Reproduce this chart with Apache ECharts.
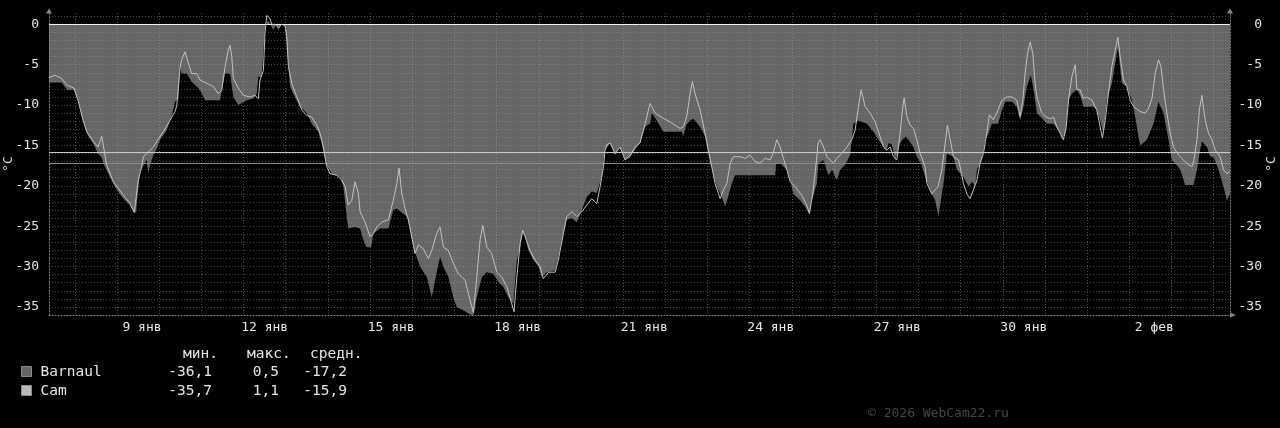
<!DOCTYPE html>
<html><head><meta charset="utf-8">
<script src="https://cdn.jsdelivr.net/npm/echarts@6/dist/echarts.min.js"></script>
<style>html,body{margin:0;background:#000}#c{width:1280px;height:428px}</style>
</head><body><div id="c"></div>
<script>
// time = hours since 7 Jan 00:00
const barnaulT = [9.3,12.7,16.5,19.4,23.5,25.8,28.7,30.8,34.5,37.2,39.3,40.2,44.0,47.8,51.6,55.4,57.3,58.8,61.1,64.9,65.8,66.8,68.7,70.6,72.5,76.3,79.1,81.0,82.9,83.9,84.8,87.7,90.5,95.2,98.1,102.8,106.6,107.6,109.5,112.3,114.2,117.0,121.8,125.6,127.5,128.4,130.3,132.2,133.2,133.9,137.0,138.5,139.8,141.7,143.6,144.6,146.5,148.3,152.1,156.0,158.8,162.6,164.5,166.4,167.3,170.2,174.9,176.8,178.7,179.6,183.4,186.3,188.2,190.1,192.6,193.9,197.7,202.4,205.2,207.2,210.0,212.9,214.8,216.6,220.4,224.3,227.1,229.0,231.8,233.7,236.5,239.4,241.3,245.1,247.9,250.8,252.7,255.6,258.4,262.2,265.0,267.8,270.7,273.5,275.5,277.4,279.2,282.1,284.9,287.8,289.7,292.5,297.3,299.1,301.1,303.9,306.8,309.6,312.5,315.3,318.1,321.0,323.8,324.8,325.7,328.6,331.4,334.3,337.1,340.0,342.8,345.6,348.5,351.3,352.3,355.1,358.9,369.4,370.1,371.8,374.1,376.0,379.8,382.6,384.5,385.5,389.3,392.1,394.0,395.7,397.8,399.7,422.5,423.0,425.3,429.1,431.0,432.9,436.7,439.5,442.0,443.4,446.2,447.1,450.0,452.8,454.9,457.6,459.5,462.3,465.2,467.0,469.9,474.7,478.4,481.3,484.1,486.0,487.0,488.9,490.8,493.6,496.5,498.3,501.2,503.1,505.6,507.8,511.6,513.5,515.4,517.3,518.3,520.2,523.9,525.9,529.6,532.5,534.6,536.3,537.3,540.1,542.0,543.9,545.8,549.4,551.5,553.4,557.3,560.0,561.9,563.8,565.7,568.0,569.9,571.4,573.3,577.1,580.7,583.7,585.6,587.5,589.4,591.3,594.2,596.0,597.9,603.6,605.5,607.4,609.3,611.2,614.1,616.0,617.5,619.8,622.6,625.5,627.3,629.2,630.2,634.0,637.8,640.6,643.5,646.3,648.2,650.1,653.0,655.8,660.5,662.5,664.3,665.3,668.2,670.0,671.9,674.8,677.6,679.5,681.3];
const barnaulV = [-7.2,-7.2,-7.2,-8.1,-8.1,-9.4,-11.9,-13.5,-14.8,-16,-16.5,-17.2,-18.9,-20.5,-21.6,-22.4,-23.2,-23.3,-18.1,-16.8,-18.5,-17.4,-16.2,-15.4,-14.3,-13.1,-11.4,-9.6,-9.2,-5.3,-6.1,-6.1,-7.1,-8.1,-9.4,-9.4,-9.4,-8.1,-6.1,-6.1,-9,-10,-9.4,-9.2,-8.6,-6.5,-6.5,-0.3,0,0.5,-0.7,0,-0.7,0,0,-2.8,-7.7,-8.6,-10.2,-11,-12.3,-13.3,-14.7,-16.8,-17.5,-18.5,-18.9,-20.1,-23.8,-25.3,-25.1,-25.3,-26.7,-27.6,-27.6,-25.9,-25.3,-25.3,-23,-22.8,-23.3,-23.8,-25.5,-27.6,-30,-31.3,-33.8,-31.7,-28.8,-30,-31.3,-33.8,-35,-35.4,-35.8,-36.1,-33.8,-31.3,-30.7,-30.9,-31.9,-32.5,-33.8,-34.6,-29.2,-27.6,-25.5,-28,-29.2,-30,-31.3,-30.7,-30.5,-28.8,-26.7,-24.2,-24,-24.5,-23,-21.4,-20.7,-20.9,-18.9,-16.8,-15.6,-14.7,-16.2,-15.2,-16.8,-16.5,-15.5,-14.7,-12.7,-12.3,-11,-11.9,-13.3,-13.3,-13.9,-12.5,-11.9,-11.7,-12.7,-13.9,-16,-17.2,-20.1,-21.4,-22.6,-21.4,-19.7,-18.7,-18.7,-17.3,-17.2,-18,-19.3,-21,-21.8,-22.6,-23.6,-21.8,-19.7,-17.2,-16.8,-18.7,-18,-19.3,-18,-17.4,-16.2,-12.3,-11.9,-12.3,-13.3,-14.3,-15.2,-15.6,-14.7,-14.9,-16.8,-14.7,-13.9,-14.3,-15.2,-16.4,-17.2,-18.9,-21,-21.8,-23.8,-21,-19.7,-16,-16.4,-18,-18.9,-20.1,-19.5,-20.1,-18,-16.8,-14.3,-13.5,-12.3,-12.3,-10.6,-9.6,-9.6,-10.2,-11.9,-10.2,-7.7,-6.3,-8.6,-11,-11.4,-12.3,-12.3,-13.1,-14.1,-13.6,-9.4,-8.6,-8.1,-8.8,-10.2,-10.2,-10.6,-11.9,-13.5,-9.4,-7.3,-4.8,-2.8,-7.3,-7.7,-9.4,-11.4,-13.9,-15,-14.3,-12.3,-9.6,-11,-14.3,-16.8,-17.2,-18,-19.9,-19.9,-18,-15.6,-14.5,-15.2,-16.4,-16.4,-18,-20.1,-21.8,-21];
const camT = [9.3,12.7,16.5,19.4,23.5,25.8,28.7,30.8,34.5,37.2,38.3,39.3,40.6,42.1,45.9,48.7,52.6,55.4,57.8,59.2,60.1,62.1,63.0,64.9,65.8,68.7,70.6,74.3,78.2,81.0,82.0,83.9,84.8,86.7,88.6,90.5,93.4,95.2,99.0,102.8,105.6,107.6,109.5,111.3,112.3,113.3,114.2,117.0,119.9,123.7,126.5,128.4,129.4,131.3,132.2,133.2,135.1,136.0,137.9,139.8,141.7,143.6,144.6,145.5,147.4,150.3,153.1,156.0,158.8,161.7,163.5,165.4,167.3,169.2,173.0,175.9,177.8,179.6,181.6,183.4,184.4,185.3,186.3,189.1,192.0,193.9,195.8,198.6,202.4,205.2,207.2,208.5,210.0,211.9,213.8,215.7,217.6,219.5,222.3,225.2,227.1,229.9,231.8,233.7,236.5,239.4,242.2,246.1,247.9,249.9,250.8,252.7,254.6,256.1,258.4,261.2,264.1,266.9,269.8,272.6,273.9,275.5,277.4,278.9,281.2,283.0,285.9,288.7,290.6,293.5,297.3,299.1,302.0,303.9,306.8,309.6,312.5,315.3,318.1,321.0,322.9,324.8,325.7,326.7,328.6,331.4,334.3,337.1,340.0,342.8,345.6,348.5,351.3,352.3,354.2,357.0,362.7,365.6,368.4,370.3,372.2,374.1,375.4,376.9,379.8,382.6,384.5,386.4,388.3,391.2,393.1,395.0,396.9,398.7,402.6,405.4,408.2,411.1,413.9,416.8,419.6,421.3,423.4,425.3,427.2,429.1,431.0,433.9,437.7,440.5,442.0,443.9,445.2,446.2,446.9,448.1,450.0,451.9,453.8,455.7,457.6,460.4,463.3,466.1,468.0,469.9,471.4,473.7,476.5,479.4,482.2,484.1,486.0,487.9,489.8,491.7,493.6,494.9,495.9,497.4,499.3,501.2,503.1,505.0,507.8,508.8,511.6,513.5,515.2,517.3,519.2,520.5,522.1,523.9,526.8,527.7,529.6,531.6,533.4,535.3,537.3,539.1,541.0,542.9,544.4,546.5,548.6,551.5,554.3,557.2,560.0,561.9,563.4,564.7,566.1,567.6,569.1,570.4,571.4,574.2,576.1,579.0,580.9,582.8,584.7,586.5,588.1,589.4,591.3,593.2,594.2,596.0,597.9,599.9,602.7,605.5,607.4,608.7,610.3,612.1,614.1,616.0,617.5,618.8,620.7,622.6,624.5,626.4,630.2,633.0,634.9,636.9,638.7,640.6,642.0,643.5,645.4,647.3,649.1,652.0,654.8,657.7,659.6,660.5,662.5,663.9,665.3,667.2,669.1,671.0,672.9,675.7,677.6,679.5,681.3];
const camV = [-6.6,-6.3,-6.7,-7.5,-7.9,-9.4,-11.9,-13.3,-14.5,-15.2,-15.2,-13.9,-15.5,-17.4,-19.5,-20.3,-21.4,-22.2,-23.3,-20.9,-19.3,-17.6,-16.4,-16,-15.8,-15.2,-14.5,-13.3,-11.9,-10.8,-10.1,-5.3,-4.4,-3.4,-4.8,-6.1,-6.1,-6.9,-7.3,-7.7,-8.6,-8.2,-5.2,-3.2,-2.6,-4,-6.7,-7.9,-8.8,-9,-8.8,-9.2,-6.9,-5.7,-1.1,1.1,0.7,0,0,-0.4,0,-0.2,-1.5,-5.2,-7.3,-9,-10.6,-11.3,-11.5,-12.5,-13.5,-15.2,-17.6,-18.5,-18.7,-19.3,-20.1,-22.4,-21.8,-19.5,-19.3,-20.9,-23.2,-24.5,-26.3,-25.9,-25.1,-24.5,-24.2,-21.8,-19.7,-17.8,-20.9,-22.8,-24.2,-26.3,-28.4,-27.3,-27.8,-29,-28,-25.9,-25.1,-27.6,-28,-29.6,-30.9,-31.7,-33.3,-35,-35.7,-31.3,-26.7,-24.9,-27.6,-28.4,-30.7,-31.3,-32.5,-34.6,-35.6,-31.3,-27.1,-25.5,-26.9,-28,-29.2,-30,-31.5,-30.7,-30.7,-29.2,-25.9,-23.8,-23.2,-23.8,-23.2,-22.4,-21.6,-22.2,-20.1,-17.6,-15.6,-14.9,-14.7,-16,-15.2,-16.8,-16.2,-15.2,-14.7,-12.3,-9.8,-9.6,-11,-11.4,-12.1,-12.5,-12.9,-12.7,-11.4,-8.6,-7.1,-8.6,-10.6,-13.5,-15.6,-17.6,-19.7,-21.6,-20.5,-19.7,-17.2,-16.4,-16.4,-16.6,-16.2,-17,-17.2,-16.6,-16.8,-16,-14.3,-15.2,-16.6,-18,-19.5,-20.1,-21.2,-22.4,-23.4,-21,-18.5,-16.4,-14.7,-14.3,-15.2,-16.4,-16.8,-17.2,-16.6,-16,-15.2,-14.3,-13.1,-10.2,-8.1,-10.2,-11,-12.1,-13.9,-15.2,-15.6,-15.2,-16.4,-16.8,-13.5,-10.6,-9.1,-11.4,-12.5,-12.9,-14.3,-16,-17.6,-19.7,-21,-20.5,-20.1,-18,-14.8,-12.5,-14.3,-16.4,-16.8,-17.6,-19.7,-21,-21.6,-20.5,-19.3,-17.2,-16,-13.5,-11.2,-11.8,-11,-9.4,-9,-9,-9.4,-11.4,-9.4,-6.1,-3.6,-2.2,-3.6,-7.3,-9,-11,-11.4,-11.7,-11.5,-12.7,-13.5,-14.3,-12.7,-9.4,-6.5,-5,-8.1,-8.1,-9.2,-9,-9.4,-10.6,-12.7,-14.1,-11.9,-8.6,-5.2,-3.2,-1.6,-4,-6.9,-7.7,-9.4,-10.2,-10.8,-11,-10.4,-9.2,-6.1,-4.4,-5.2,-8.1,-11,-13.5,-15.2,-16.2,-16.8,-17.4,-17.6,-17.2,-14.3,-10.6,-8.8,-11.9,-13.5,-14.3,-15.6,-16.4,-18,-18.5,-18.2];

const dayLines = [24,48,72,96,120,144,168,192,216,240,264,288,312,336,360,384,408,432,456,480,504,528,552,576,600,624,648,672];
const labelHours = [60,132,204,276,348,420,492,564,636];
const labelTexts = [' 9 янв','12 янв','15 янв','18 янв','21 янв','24 янв','27 янв','30 янв',' 2 фев'];
const yTicks = [0,-5,-10,-15,-20,-25,-30,-35];
const statHeaders = ['мин.','макс.','средн.'];
const seriesNames = ['Barnaul','Cam'];
const barnaulStats = [-36.1, 0.5, -17.2];
const camStats = [-35.7, 1.1, -15.9];
const copyrightText = '© 2026 WebCam22.ru';

const FONT = 'DejaVu Sans Mono';
const gridLine = {color:'rgba(175,175,175,0.42)', width:1, type:[1,2]};
const fmt = v => String(v).replace('.', ',').replace(/^(-?\d+)$/, '$1,0');

const chart = echarts.init(document.getElementById('c'), null, {renderer:'canvas'});
const zip = (t, v) => t.map((x, i) => [x, v[i]]);

const yBase = {
  type:'value', min:-36, max:1.4, interval:1,
  axisTick:{show:false},
  axisLine:{show:true, lineStyle:{color:'#888', width:1, type:[1,2]}, symbol:['none','triangle'], symbolSize:[6,5], symbolOffset:[0,2]},
  name:'°C', nameLocation:'middle', nameRotate:90, nameMoveOverlap:false,
  nameTextStyle:{color:'#ddd', fontFamily:FONT, fontSize:13},
  z:3
};

const texts = [];
const cols = [212, 279, 347];
const headX = [183, 247, 310];
statHeaders.forEach((h, i) => texts.push({type:'text', x:headX[i], y:354, style:{text:h, fill:'#e6e6e6', font:'14.5px ' + FONT, textVerticalAlign:'middle'}}));
[barnaulStats, camStats].forEach((st, r) => {
  const y = r === 0 ? 372 : 391;
  texts.push({type:'rect', shape:{x:21.5, y:y-5.5, width:10, height:10}, style:{fill: r === 0 ? '#666' : '#bbb', stroke:'#8a8a8a', lineWidth:1}});
  texts.push({type:'text', x:40.5, y:y, style:{text:seriesNames[r], fill:'#e6e6e6', font:'14.5px ' + FONT, textVerticalAlign:'middle'}});
  st.forEach((v, i) => texts.push({type:'text', x:cols[i], y:y, style:{text:fmt(v), fill:'#e6e6e6', font:'14.5px ' + FONT, textAlign:'right', textVerticalAlign:'middle'}}));
});
texts.push({type:'text', x:868, y:414, style:{text:copyrightText, fill:'#474747', font:'13px ' + FONT, textVerticalAlign:'middle'}});

chart.setOption({
  backgroundColor:'#000',
  animation:false,
  grid:{left:49, right:50, top:13, bottom:113, containLabel:false, outerBoundsMode:'none'},
  xAxis:{
    type:'value', min:9.3, max:681.3,
    axisLine:{show:true, onZero:false, lineStyle:{color:'#888', width:1, type:[1,2]}, symbol:['none','triangle'], symbolSize:[5,6], symbolOffset:[0,3]},
    axisTick:{show:false, customValues:dayLines},
    splitLine:{show:true, lineStyle:gridLine},
    axisLabel:{customValues:labelHours, formatter:v => labelTexts[labelHours.indexOf(v)], color:'#e6e6e6', fontFamily:FONT, fontSize:13, margin:6},
    z:3
  },
  yAxis:[
    Object.assign({}, yBase, {
      position:'left', nameGap:34,
      splitLine:{show:true, showMinLine:false, showMaxLine:false, lineStyle:gridLine},
      axisLabel:{customValues:yTicks, color:'#e6e6e6', fontFamily:FONT, fontSize:13, margin:10}
    }),
    Object.assign({}, yBase, {
      position:'right', nameGap:35,
      splitLine:{show:false},
      axisLabel:{customValues:yTicks, color:'#e6e6e6', fontFamily:FONT, fontSize:13, margin:32, align:'right'}
    })
  ],
  series:[
    {
      name:seriesNames[0], type:'line', data:zip(barnaulT, barnaulV), showSymbol:false, symbol:'none',
      lineStyle:{width:0, opacity:0}, areaStyle:{color:'#666666', opacity:1, origin:0}, z:2
    },
    {
      name:seriesNames[1], type:'line', data:zip(camT, camV), showSymbol:false, symbol:'none',
      lineStyle:{width:1, color:'#c2c2c2'}, z:5,
      markLine:{silent:true, symbol:'none', label:{show:false},
        data:[
          {yAxis:0, lineStyle:{color:'#f2f2f2', width:1, type:'solid'}},
          {yAxis:camStats[2], lineStyle:{color:'#c8c8c8', width:1, type:'solid'}},
          {yAxis:barnaulStats[2], lineStyle:{color:'#8c8c8c', width:1, type:'solid'}}
        ]}
    }
  ],
  graphic:texts
});
</script></body></html>
